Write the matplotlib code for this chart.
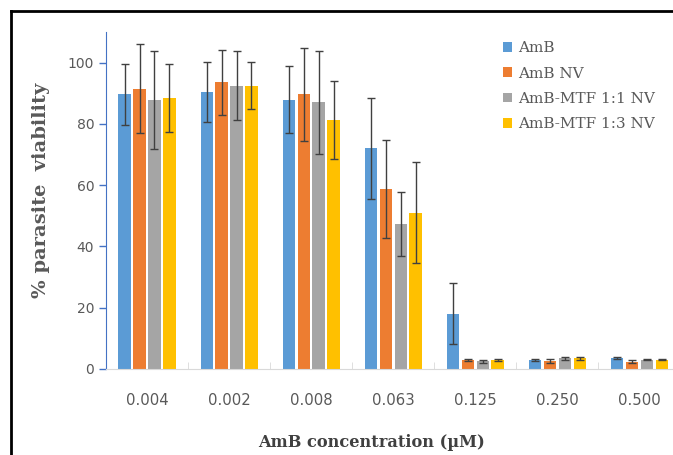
import numpy as np
import matplotlib
matplotlib.use("Agg")
import matplotlib.pyplot as plt
from matplotlib.lines import Line2D

# ==============================
# Data
# ==============================
concentrations = ["0.004", "0.002", "0.008", "0.063", "0.125", "0.250", "0.500"]
series_names = ["AmB", "AmB NV", "AmB-MTF 1:1 NV", "AmB-MTF 1:3 NV"]

amb = [89.6, 90.5, 87.9, 72.1, 18.0, 3.0, 3.6]
amb_err = [9.8, 9.8, 11.0, 16.5, 10.0, 0.3, 0.4]

amb_nv = [91.5, 93.6, 89.6, 58.6, 3.0, 2.6, 2.4]
amb_nv_err = [14.5, 10.6, 15.2, 16.0, 0.3, 0.7, 0.4]

mtf11 = [87.9, 92.5, 87.0, 47.4, 2.6, 3.5, 3.0]
mtf11_err = [16.0, 11.3, 16.7, 10.5, 0.5, 0.4, 0.2]

mtf13 = [88.5, 92.5, 81.3, 51.0, 3.0, 3.5, 3.0]
mtf13_err = [11.0, 7.7, 12.8, 16.5, 0.3, 0.5, 0.2]

values = [amb, amb_nv, mtf11, mtf13]
errors = [amb_err, amb_nv_err, mtf11_err, mtf13_err]
colors = ["#5B9BD5", "#ED7D31", "#A5A5A5", "#FFC000"]

# ==============================
# Plot
# ==============================
fig = plt.figure(figsize=(6.73, 4.55), dpi=100)
ax = fig.add_axes([106 / 673, 1 - 369 / 455, 1 - 106 / 673, (369 - 32) / 455])

x = np.arange(len(concentrations))
bw = 0.15
step = 0.182
for i, (vals, errs, c, name) in enumerate(zip(values, errors, colors, series_names)):
    pos = x + (i - 1.5) * step
    ax.bar(pos, vals, width=bw, color=c, label=name, zorder=2)
    ax.errorbar(pos, vals, yerr=errs, fmt="none", ecolor="#404040",
                elinewidth=1, capsize=2.8, capthick=1, zorder=3)

ax.set_xlim(-0.5, 6.41)
ax.set_ylim(0, 110)
ax.set_yticks(range(0, 101, 20))

# category separator ticks
ax.set_xticks(x)
ax.set_xticklabels(concentrations, fontsize=10.7, color="#595959")
ax.tick_params(axis="x", length=0, pad=17)
ax.set_xticks(np.arange(-0.5, 6.5, 1), minor=True)
ax.tick_params(axis="x", which="minor", direction="in", length=5, color="#D9D9D9")
ax.tick_params(axis="y", labelsize=10, labelcolor="#595959", color="#4472C4",
               length=5, width=1)

for s in ["top", "right"]:
    ax.spines[s].set_visible(False)
ax.spines["left"].set_color("#4472C4")
ax.spines["bottom"].set_color("#D9D9D9")

ax.set_ylabel("% parasite  viability", fontsize=14, fontweight="bold",
              family="DejaVu Serif", color="#595959")
ax.yaxis.set_label_coords(-(106 - 50) / 567, (369 - 190) / 337)
ax.set_xlabel("AmB concentration (µM)", fontsize=11.7, fontweight="bold",
              family="DejaVu Serif", color="#404040")
ax.xaxis.set_label_coords((372 - 106) / 567, -(434 - 369) / 337)

ax.legend(loc="upper left", bbox_to_anchor=(0.727, 0.94),
          bbox_transform=fig.transFigure, frameon=False,
          prop={"family": "DejaVu Serif", "size": 11},
          handlelength=0.6, handleheight=0.6, handletextpad=0.4,
          labelspacing=0.75, labelcolor="#595959")

# black frame (cropped screenshot border)
fig.add_artist(Line2D([11 / 673, 11 / 673], [0, 1 - 11 / 455],
                      color="black", lw=2, transform=fig.transFigure))
fig.add_artist(Line2D([11 / 673, 1], [1 - 11 / 455, 1 - 11 / 455],
                      color="black", lw=2, transform=fig.transFigure))

fig.savefig("out.png", dpi=100)
